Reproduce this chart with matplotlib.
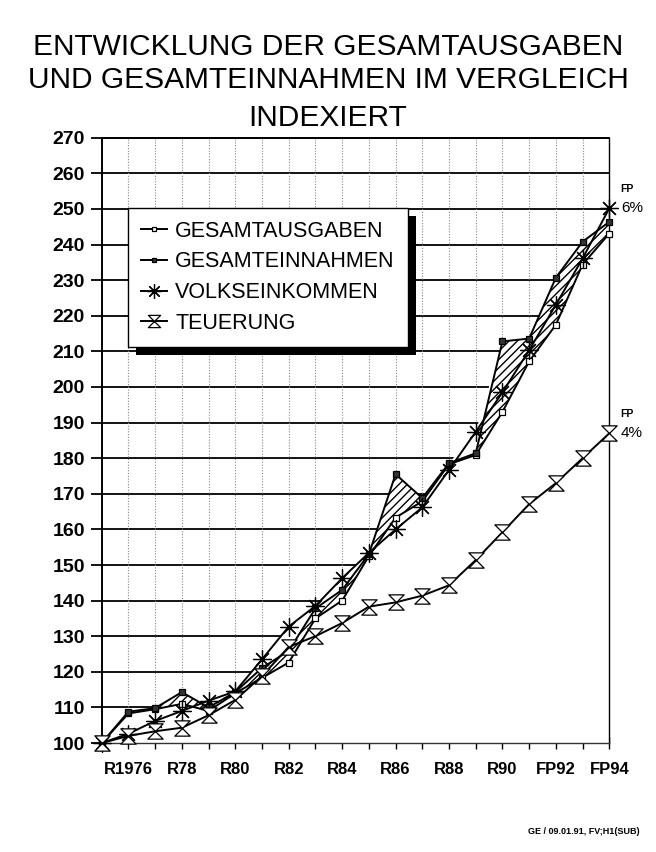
import numpy as np
import matplotlib
matplotlib.use("Agg")
import matplotlib.pyplot as plt
from matplotlib.path import Path
from matplotlib.patches import Rectangle

years = list(range(1975, 1995))
ausgaben = [100, 108.3, 109.5, 111.0, 109.0, 114.0, 118.3, 122.6, 135.0, 140.0,
            152.5, 163.3, 167.9, 178.3, 180.9, 193.0, 207.2, 217.5, 234.4, 243.1]
einnahmen = [100, 108.8, 109.8, 114.3, 110.0, 114.3, 121.1, 125.9, 137.8, 143.0,
             153.0, 175.5, 168.8, 178.6, 181.4, 212.8, 213.6, 230.7, 240.8, 246.4]
volkseinkommen = [100, 102.6, 106.2, 109.0, 111.9, 114.5, 123.5, 132.7, 138.5, 146.3,
                  153.4, 160.0, 166.2, 176.7, 187.4, 198.5, 210.3, 223.1, 236.1, 250.2]
teuerung = [100, 102.0, 103.3, 104.3, 107.8, 112.1, 118.8, 127.0, 130.0, 133.7,
            138.3, 139.5, 141.4, 144.3, 151.4, 159.2, 167.1, 173.0, 180.0, 187.0]
xtick_years = [1976, 1978, 1980, 1982, 1984, 1986, 1988, 1990, 1992, 1994]
xtick_labels = ["R1976", "R78", "R80", "R82", "R84", "R86", "R88", "R90", "FP92", "FP94"]
yticks = list(range(100, 271, 10))

plt.rcParams['font.family'] = ['Liberation Sans', 'DejaVu Sans']

fig = plt.figure(figsize=(6.56, 8.52), dpi=100)
ax = fig.add_axes([0.155, 0.1279, 0.9288 - 0.155, 0.8383 - 0.1279])

x = np.array(years)
A = np.array(ausgaben); E = np.array(einnahmen)
V = np.array(volkseinkommen); T = np.array(teuerung)
env = np.max(np.vstack([A, E, V, T]), axis=0)

ax.set_xlim(1975, 1994)
ax.set_ylim(100, 270)

# grid
ax.set_axisbelow(True)
for yv in yticks:
    ax.axhline(yv, color='black', lw=1.3, zorder=0.5)
for xv in years[1:-1]:
    ax.axvline(xv, color='#888888', lw=0.8, ls=(0, (1, 1.5)), zorder=0.5)

# white area under the curves hides the grid
ax.fill_between(x, 100, env, facecolor='white', edgecolor='none', zorder=1)
# hatched band between expenditure and revenue
ax.fill_between(x, A, E, facecolor='none', edgecolor='black', hatch='////',
                linewidth=0, zorder=1.5)

hourglass = Path([(-1, 1), (1, 1), (-1, -1), (1, -1), (-1, 1)],
                 [Path.MOVETO, Path.LINETO, Path.LINETO, Path.LINETO, Path.CLOSEPOLY])

l1, = ax.plot(x, A, color='black', lw=1.4, marker='s', ms=4, mfc='white', mec='black',
              mew=0.9, zorder=3, clip_on=False, label='GESAMTAUSGABEN')
l2, = ax.plot(x, E, color='black', lw=1.4, marker='s', ms=4, mfc='#333333', mec='black',
              mew=0.9, zorder=3, clip_on=False, label='GESAMTEINNAHMEN')
l3, = ax.plot(x, V, color='black', lw=1.4, marker=(8, 2, 0), ms=13, mec='black',
              mew=0.9, zorder=3, clip_on=False, label='VOLKSEINKOMMEN')
l4, = ax.plot(x, T, color='black', lw=1.4, marker=hourglass, ms=11, mfc='white', mec='black',
              mew=0.9, zorder=3, clip_on=False, label='TEUERUNG')

# ticks
ax.set_yticks(yticks)
ax.set_yticklabels([str(v) for v in yticks], fontsize=14, fontweight='bold')
ax.set_xticks(years)
labs = []
for yr in years:
    labs.append(xtick_labels[xtick_years.index(yr)] if yr in xtick_years else '')
ax.set_xticklabels(labs, fontsize=12, fontweight='bold')
ax.tick_params(axis='y', direction='out', length=8, width=1.3, pad=4)
ax.tick_params(axis='x', direction='inout', length=8, width=1.0, pad=10)
for s in ['left', 'top']:
    ax.spines[s].set_linewidth(1.4)
ax.spines['right'].set_linewidth(1.0)
ax.spines['bottom'].set_linewidth(1.0)
ax.spines['bottom'].set_color('#333333')

# end annotations
ax.annotate('FP', xy=(1994, V[-1]), xytext=(8, 10), textcoords='offset points',
            fontsize=7.5, ha='left', va='bottom', fontweight='bold')
ax.annotate('6%', xy=(1994, V[-1]), xytext=(8.5, 0), textcoords='offset points',
            fontsize=11, ha='left', va='center')
ax.annotate('FP', xy=(1994, T[-1]), xytext=(8, 10), textcoords='offset points',
            fontsize=7.5, ha='left', va='bottom', fontweight='bold')
ax.annotate('4%', xy=(1994, T[-1]), xytext=(8.5, 0), textcoords='offset points',
            fontsize=11, ha='left', va='center')

# legend
leg = ax.legend(handles=[l1, l2, l3, l4], loc='upper left',
                bbox_to_anchor=((128 - 101.7) / (609.3 - 101.7), (743 - 208) / 605.0),
                frameon=True, fancybox=False, shadow=False, fontsize=15.5,
                framealpha=1.0, handlelength=1.2, handletextpad=0.4, labelspacing=0.45,
                borderpad=0.6, borderaxespad=0, markerscale=0.8)
leg.get_frame().set_edgecolor('black')
leg.get_frame().set_facecolor('white')
leg.get_frame().set_linewidth(1.0)
leg.set_zorder(10)
fig.canvas.draw()
bb = leg.get_window_extent().transformed(fig.transFigure.inverted())
dx, dy = 8.5 / 656, 8.5 / 852
shadow = Rectangle((bb.x0 + dx, bb.y0 - dy), bb.width, bb.height,
                   transform=fig.transFigure, facecolor='black',
                   edgecolor='none', zorder=9, clip_on=False)
ax.add_artist(shadow)

# titles
fig.text(0.5, 1 - 47 / 852, 'ENTWICKLUNG DER GESAMTAUSGABEN', ha='center', va='center',
         fontsize=21.5)
fig.text(0.5, 1 - 80 / 852, 'UND GESAMTEINNAHMEN IM VERGLEICH', ha='center', va='center',
         fontsize=21.5)
fig.text(0.5, 1 - 118 / 852, 'INDEXIERT', ha='center', va='center', fontsize=21.5)
fig.text(640 / 656, 1 - 832 / 852, 'GE / 09.01.91, FV;H1(SUB)', ha='right', va='center',
         fontsize=6.5, fontweight='bold')

fig.savefig('out.png', dpi=100)
